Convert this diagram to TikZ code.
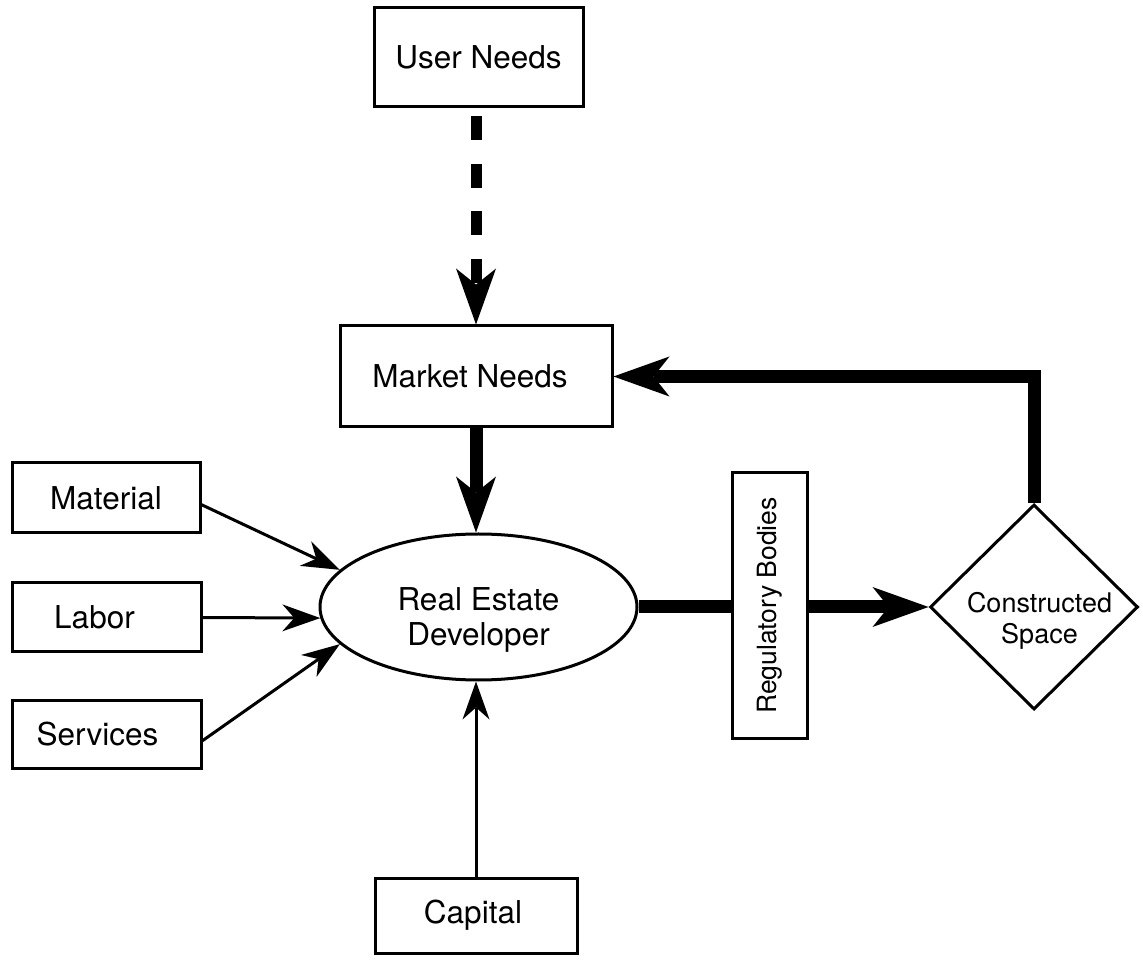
\documentclass[tikz,border=0pt]{standalone}
\usepackage{fontspec}
\setmainfont{TeX Gyre Heros}
\usetikzlibrary{arrows.meta,shapes.geometric}
\begin{document}
\begin{tikzpicture}[x=1pt,y=1pt,
  box/.style={draw,line width=3pt,rectangle,inner sep=0pt,font=\fontsize{31.5}{37}\selectfont},
  thinarrow/.style={line width=3pt,-{Stealth[length=38pt,width=27pt,inset=12pt,line width=0pt]}},
  thickline/.style={line width=13pt},
  bigtip/.style={-{Stealth[length=56pt,width=40pt,inset=16pt,line width=0pt]}},
]
\useasboundingbox (0,0) rectangle (1143,962);
% boxes
\node[box,minimum width=209pt,minimum height=99pt] (usr) at (478.5,904.5) {User Needs};
\node[box,minimum width=272pt,minimum height=101pt] (mkt) at (476,585.5) {Market Needs\hspace*{12pt}};
\node[box,minimum width=188pt,minimum height=70pt] (mat) at (106,464) {Material};
\node[box,minimum width=189pt,minimum height=69pt] (lab) at (106.5,344.5) {Labor\hspace*{24pt}};
\node[box,minimum width=189pt,minimum height=68pt] (srv) at (106.5,228) {Services\hspace*{18pt}};
\node[box,minimum width=202pt,minimum height=75pt] (cap) at (476,46.5) {Capital\hspace*{6pt}};
\node[box,rotate=90,minimum width=265pt,minimum height=75pt,font=\fontsize{26.5}{31}\selectfont] (reg) at (769.5,356.5) {Regulatory Bodies};
\node[draw,line width=3pt,ellipse,inner sep=0pt,minimum width=317pt,minimum height=146pt,align=center,font=\fontsize{31.5}{35}\selectfont] (ell) at (478.5,355) {\rule{0pt}{48pt}Real Estate\\Developer};
\node[draw,line width=3pt,diamond,inner sep=0pt,minimum width=208pt,minimum height=205pt] (dia) at (1034,355) {};
\node[font=\fontsize{27}{31}\selectfont,align=center,inner sep=0pt] (cst) at (1039.5,341.2) {Constructed\\Space};
% connectors
\draw[line width=11pt,dash pattern=on 24pt off 23.5pt,dash phase=39.5pt,bigtip] (mkt.north |- usr.south) -- (mkt.north);
\draw[thickline,bigtip] (mkt.south) -- (mkt.south |- ell.north);
\draw[thinarrow] (mat.-4) -- (ell.165);
\draw[thinarrow] (lab.east) -- (ell.184);
\draw[thinarrow] (srv.-4) -- (ell.195);
\draw[thinarrow] (cap.north) -- (cap.north |- ell.south);
\draw[thickline] (ell.east) -- (ell.east -| reg.north);
\draw[thickline,bigtip] (reg.south |- dia.west) -- (dia.west);
\draw[thickline,bigtip] (dia.north) |- (mkt.east);
\end{tikzpicture}
\end{document}
